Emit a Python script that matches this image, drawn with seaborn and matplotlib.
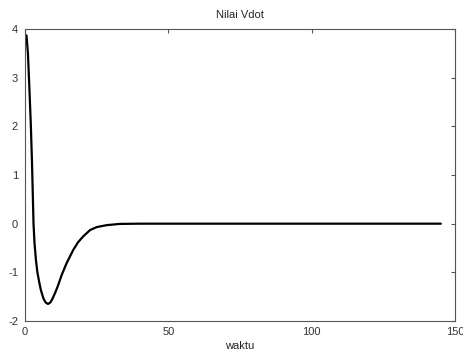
import matplotlib
matplotlib.use("Agg")
import matplotlib.pyplot as plt
import seaborn as sns
import pandas as pd

# Vdot response over time (waktu)
waktu = [0.5, 1.0, 1.5, 2.0, 2.4, 2.7, 2.95, 3.3, 3.8, 4.3, 5.0, 5.5, 6.0,
         6.5, 7.2, 8.0, 8.8, 9.5, 10.5, 11.5, 12.8, 14.5, 16.8, 18.5, 20.3,
         22.7, 25.0, 28.5, 33.0, 40.0, 145.0]
vdot = [3.87, 3.5, 2.8, 2.05, 1.3, 0.6, 0.0, -0.4, -0.75, -1.0, -1.22, -1.36,
        -1.46, -1.55, -1.62, -1.65, -1.62, -1.55, -1.42, -1.27, -1.05, -0.81,
        -0.54, -0.38, -0.26, -0.13, -0.07, -0.03, -0.005, 0.0, 0.0]

x_ticks = [0, 50, 100, 150]
y_ticks = [-2, -1, 0, 1, 2, 3, 4]

sns.set_style("white")
plt.rcParams["font.family"] = ["Liberation Sans", "DejaVu Sans"]
plt.rcParams["axes.unicode_minus"] = False

df = pd.DataFrame({"waktu": waktu, "vdot": vdot})

fig = plt.figure(figsize=(4.64, 3.56), dpi=100)
ax = fig.add_axes([0.054, 0.0983, 0.927, 0.8202])

sns.lineplot(data=df, x="waktu", y="vdot", color="black", linewidth=1.6, ax=ax)

ax.set_xlim(0, 150)
ax.set_ylim(-2, 4)
ax.set_xticks(x_ticks)
ax.set_yticks(y_ticks)
ax.set_title("Nilai Vdot", fontsize=8, color="#222222", pad=8)
ax.set_xlabel("waktu", fontsize=8, color="#222222", labelpad=3)
ax.set_ylabel("")

for side in ax.spines.values():
    side.set_color("#555555")
    side.set_linewidth(0.8)
ax.tick_params(direction="in", length=3, width=0.8, colors="#555555",
               labelcolor="#333333", labelsize=8, top=True, right=True)
ax.tick_params(axis="x", pad=4)
ax.tick_params(axis="y", pad=5)

fig.savefig("out.png", dpi=100)
